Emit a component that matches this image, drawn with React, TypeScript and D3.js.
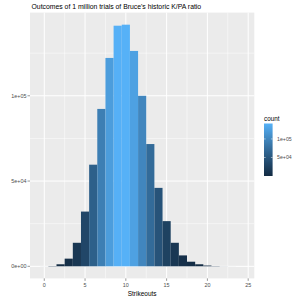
import React from "react";
import * as d3 from "d3";

const strikeouts = [0, 1, 2, 3, 4, 5, 6, 7, 8, 9, 10, 11, 12, 13, 14, 15, 16, 17, 18, 19, 20, 21, 22, 23, 24];
const counts = [20, 170, 1200, 4500, 13800, 32100, 59600, 92300, 122200, 141100, 141700, 126300, 100000, 71700, 46000, 26500, 13800, 6400, 2700, 1200, 450, 150, 50, 15, 4];
const xTicks = [0, 5, 10, 15, 20, 25];
const xMinor = [2.5, 7.5, 12.5, 17.5, 22.5];
const yTicks = [0, 50000, 100000];
const yTickLabels = ["0e+00", "5e+04", "1e+05"];
const yMinor = [25000, 75000, 125000];
const legendTicks = [50000, 100000];
const legendLabels = ["5e+04", "1e+05"];
const titleText = "Outcomes of 1 million trials of Bruce's historic K/PA ratio";
const xTitle = "Strikeouts";
const legendTitle = "count";

const W = 300, H = 299;
const panel = { left: 30, right: 254.3, top: 12.6, bottom: 278.4 };
const font = "'Liberation Sans', Arial, Helvetica, sans-serif";

export default function App() {
  const maxC = d3.max(counts) as number;
  const minC = d3.min(counts) as number;
  const xMin = -0.5, xMax = 24.5;
  const xr = xMax - xMin;
  const x = d3.scaleLinear().domain([xMin - 0.05 * xr, xMax + 0.05 * xr]).range([panel.left, panel.right]);
  const y = d3.scaleLinear().domain([-0.05 * maxC, 1.05 * maxC]).range([panel.bottom, panel.top]);
  const interp = d3.interpolateLab("#132B43", "#56B1F7");
  const color = d3.scaleLinear<number>().domain([minC, maxC]).range([0, 1]);
  const fill = (c: number) => interp(color(c));

  const leg = { x: 264, y0: 123.5, y1: 176, w: 8.6 };
  const ly = d3.scaleLinear().domain([minC, maxC]).range([leg.y1, leg.y0]);
  const stops = d3.range(0, 21).map((i) => i / 20);

  return (
    <svg width={W} height={H} style={{ position: "absolute", left: 0, top: 0, background: "#fff" }}>
      <defs>
        <linearGradient id="cb" x1="0" y1="1" x2="0" y2="0">
          {stops.map((s) => (
            <stop key={s} offset={s} stopColor={interp(s)} />
          ))}
        </linearGradient>
      </defs>
      <text x={31.5} y={9.3} fontFamily={font} fontSize={6.85} fill="#000">{titleText}</text>
      <rect x={panel.left} y={panel.top} width={panel.right - panel.left} height={panel.bottom - panel.top} fill="#EBEBEB" />
      {yMinor.map((v) => (
        <line key={"ym" + v} x1={panel.left} x2={panel.right} y1={y(v)} y2={y(v)} stroke="#fff" strokeWidth={0.5} />
      ))}
      {xMinor.map((v) => (
        <line key={"xm" + v} y1={panel.top} y2={panel.bottom} x1={x(v)} x2={x(v)} stroke="#fff" strokeWidth={0.5} />
      ))}
      {yTicks.map((v) => (
        <line key={"yM" + v} x1={panel.left} x2={panel.right} y1={y(v)} y2={y(v)} stroke="#fff" strokeWidth={1} />
      ))}
      {xTicks.map((v) => (
        <line key={"xM" + v} y1={panel.top} y2={panel.bottom} x1={x(v)} x2={x(v)} stroke="#fff" strokeWidth={1} />
      ))}
      {strikeouts.map((s, i) => (
        <rect key={"b" + s} x={x(s - 0.5)} width={x(s + 0.5) - x(s - 0.5)} y={y(counts[i])} height={y(0) - y(counts[i])} fill={fill(counts[i])} />
      ))}
      {yTicks.map((v, i) => (
        <g key={"yt" + v}>
          <line x1={panel.left - 2.5} x2={panel.left} y1={y(v)} y2={y(v)} stroke="#333" strokeWidth={0.5} />
          <text x={panel.left - 3.5} y={y(v)} dy="0.35em" textAnchor="end" fontFamily={font} fontSize={5.4} fill="#4D4D4D">{yTickLabels[i]}</text>
        </g>
      ))}
      {xTicks.map((v) => (
        <g key={"xt" + v}>
          <line x1={x(v)} x2={x(v)} y1={panel.bottom} y2={panel.bottom + 2.5} stroke="#333" strokeWidth={0.5} />
          <text x={x(v)} y={panel.bottom + 8.4} textAnchor="middle" fontFamily={font} fontSize={5.4} fill="#4D4D4D">{v}</text>
        </g>
      ))}
      <text x={(panel.left + panel.right) / 2} y={295.5} textAnchor="middle" fontFamily={font} fontSize={6.5} fill="#000">{xTitle}</text>
      <text x={leg.x} y={121.2} fontFamily={font} fontSize={6.3} fill="#000">{legendTitle}</text>
      <rect x={leg.x} y={leg.y0} width={leg.w} height={leg.y1 - leg.y0} fill="url(#cb)" />
      {legendTicks.map((v, i) => (
        <g key={"lt" + v}>
          <line x1={leg.x} x2={leg.x + 1.7} y1={ly(v)} y2={ly(v)} stroke="#fff" strokeWidth={0.5} />
          <line x1={leg.x + leg.w - 1.7} x2={leg.x + leg.w} y1={ly(v)} y2={ly(v)} stroke="#fff" strokeWidth={0.5} />
          <text x={leg.x + leg.w + 4.5} y={ly(v)} dy="0.35em" fontFamily={font} fontSize={5.2} fill="#4D4D4D">{legendLabels[i]}</text>
        </g>
      ))}
    </svg>
  );
}
